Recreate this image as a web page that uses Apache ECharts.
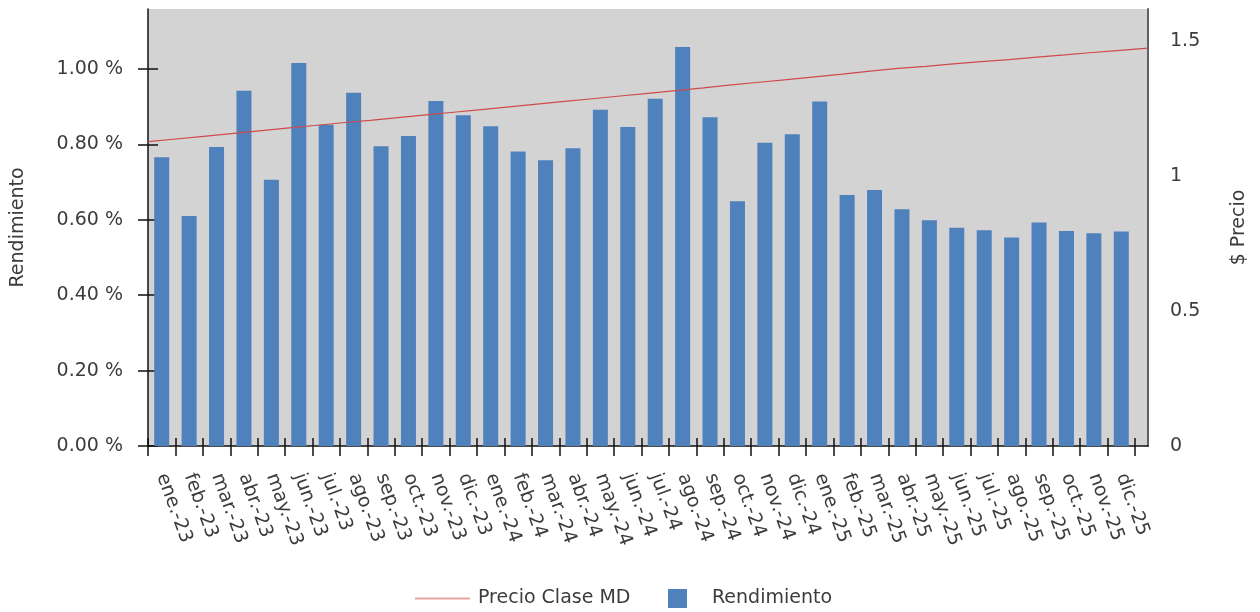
<!DOCTYPE html>
<html>
<head>
<meta charset="utf-8">
<script src="https://cdn.jsdelivr.net/npm/echarts@6/dist/echarts.min.js"></script>
<style>
  html, body { margin: 0; padding: 0; background: #ffffff; }
  #chart { width: 1260px; height: 612px; }
</style>
</head>
<body>
<div id="chart"></div>
<script>
// Monthly categories
const meses = [
  'ene.-23', 'feb.-23', 'mar.-23', 'abr.-23', 'may.-23', 'jun.-23',
  'jul.-23', 'ago.-23', 'sep.-23', 'oct.-23', 'nov.-23', 'dic.-23',
  'ene.-24', 'feb.-24', 'mar.-24', 'abr.-24', 'may.-24', 'jun.-24',
  'jul.-24', 'ago.-24', 'sep.-24', 'oct.-24', 'nov.-24', 'dic.-24',
  'ene.-25', 'feb.-25', 'mar.-25', 'abr.-25', 'may.-25', 'jun.-25',
  'jul.-25', 'ago.-25', 'sep.-25', 'oct.-25', 'nov.-25', 'dic.-25'
];

// Monthly yield, in percent
const rendimiento = [
  0.766, 0.610, 0.793, 0.942, 0.706, 1.016,
  0.852, 0.937, 0.795, 0.822, 0.915, 0.877,
  0.848, 0.781, 0.758, 0.790, 0.892, 0.846,
  0.921, 1.058, 0.872, 0.649, 0.804, 0.827,
  0.914, 0.666, 0.679, 0.628, 0.599, 0.579,
  0.572, 0.553, 0.593, 0.570, 0.564, 0.569
];

// Share price of the MD class, sampled evenly across the period
const precioClaseMD = [
  1.126, 1.136, 1.146, 1.156, 1.166, 1.176, 1.186, 1.196, 1.205, 1.215,
  1.225, 1.235, 1.245, 1.255, 1.265, 1.275, 1.285, 1.295, 1.305, 1.315,
  1.325, 1.336, 1.346, 1.356, 1.366, 1.376, 1.387, 1.397, 1.405, 1.414,
  1.422, 1.430, 1.439, 1.447, 1.456, 1.464, 1.472
];

// Axis tick values
const ticksRendimiento = [0, 0.2, 0.4, 0.6, 0.8, 1.0];
const ticksPrecio = [0, 0.5, 1, 1.5];

const FONT = 'DejaVu Sans';
const FS = 19;
const TEXT = '#3c3c3c';
const posicionesPrecio = precioClaseMD.map((_, i) => String(i));

const chart = echarts.init(document.getElementById('chart'), null, { renderer: 'canvas' });

chart.setOption({
  animation: false,
  textStyle: { fontFamily: FONT },
  grid: [
    { left: 148, right: 112, top: 9, bottom: 166, show: true, backgroundColor: '#d3d3d3', borderWidth: 0 },
    { left: 148, right: 125, top: 9, bottom: 166 }
  ],
  legend: [
    {
      left: 410, top: 584,
      itemWidth: 55, itemHeight: 2,
      icon: 'rect',
      data: [{ name: 'Precio Clase MD', itemStyle: { color: '#e6a4a4' } }],
      textStyle: { fontFamily: FONT, fontSize: FS, color: TEXT, padding: [0, 0, 0, 3] }
    },
    {
      left: 663, top: 584,
      itemWidth: 19, itemHeight: 19,
      icon: 'rect',
      data: ['Rendimiento'],
      textStyle: { fontFamily: FONT, fontSize: FS, color: TEXT, padding: [0, 0, 0, 20] }
    }
  ],
  xAxis: [
    {
      gridIndex: 0, type: 'category', data: posicionesPrecio, boundaryGap: false,
      position: 'bottom',
      axisLine: { show: true, lineStyle: { color: '#111', width: 1.5 } },
      axisTick: { show: false }, axisLabel: { show: false }, splitLine: { show: false }
    },
    {
      gridIndex: 1, type: 'category', data: meses, boundaryGap: true,
      position: 'bottom',
      axisLine: { show: false },
      axisTick: { show: true, interval: 0, length: 10, lineStyle: { color: '#111', width: 1.5 } },
      axisLabel: {
        interval: 0, rotate: -70, margin: 28,
        fontFamily: FONT, fontSize: FS, color: TEXT
      },
      splitLine: { show: false }
    },
    {
      gridIndex: 1, type: 'category', data: meses, boundaryGap: true,
      position: 'bottom',
      axisLine: { show: false },
      axisTick: { show: true, interval: 0, inside: true, length: 8, lineStyle: { color: '#111', width: 1.5 } },
      axisLabel: { show: false, interval: 0 }, splitLine: { show: false }
    }
  ],
  yAxis: [
    {
      gridIndex: 1, type: 'value', position: 'left',
      min: 0, max: 1.159,
      name: 'Rendimiento', nameLocation: 'middle', nameRotate: 90, nameGap: 120,
      nameTextStyle: { fontFamily: FONT, fontSize: FS, color: TEXT },
      axisLine: { show: true, lineStyle: { color: '#111', width: 1.5 } },
      axisTick: { show: true, length: 10, customValues: ticksRendimiento, lineStyle: { color: '#111', width: 1.5 } },
      axisLabel: {
        customValues: ticksRendimiento, margin: 25,
        fontFamily: FONT, fontSize: FS, color: TEXT,
        formatter: v => v.toFixed(2) + ' %'
      },
      splitLine: { show: false }
    },
    {
      gridIndex: 1, type: 'value', position: 'left',
      min: 0, max: 1.159,
      axisLine: { show: false },
      axisTick: { show: true, inside: true, length: 10, customValues: ticksRendimiento, lineStyle: { color: '#111', width: 1.5 } },
      axisLabel: { show: false }, splitLine: { show: false }
    },
    {
      gridIndex: 0, type: 'value', position: 'right',
      min: 0, max: 1.617,
      name: '$ Precio', nameLocation: 'middle', nameRotate: 90, nameGap: 82,
      nameTextStyle: { fontFamily: FONT, fontSize: FS, color: TEXT },
      axisLine: { show: true, lineStyle: { color: '#606060', width: 2 } },
      axisTick: { show: false },
      axisLabel: {
        customValues: ticksPrecio, margin: 22,
        fontFamily: FONT, fontSize: FS, color: TEXT,
        formatter: v => String(v)
      },
      splitLine: { show: false }
    }
  ],
  series: [
    {
      name: 'Precio Clase MD', type: 'line',
      xAxisIndex: 0, yAxisIndex: 2,
      data: precioClaseMD,
      symbol: 'none', z: 5,
      lineStyle: { color: '#cf4a4a', width: 1.2 },
      itemStyle: { color: '#e6a4a4' }
    },
    {
      name: 'Rendimiento', type: 'bar',
      xAxisIndex: 1, yAxisIndex: 0,
      data: rendimiento,
      barWidth: 15,
      itemStyle: { color: '#4f81bd' }
    }
  ]
});
</script>
</body>
</html>
